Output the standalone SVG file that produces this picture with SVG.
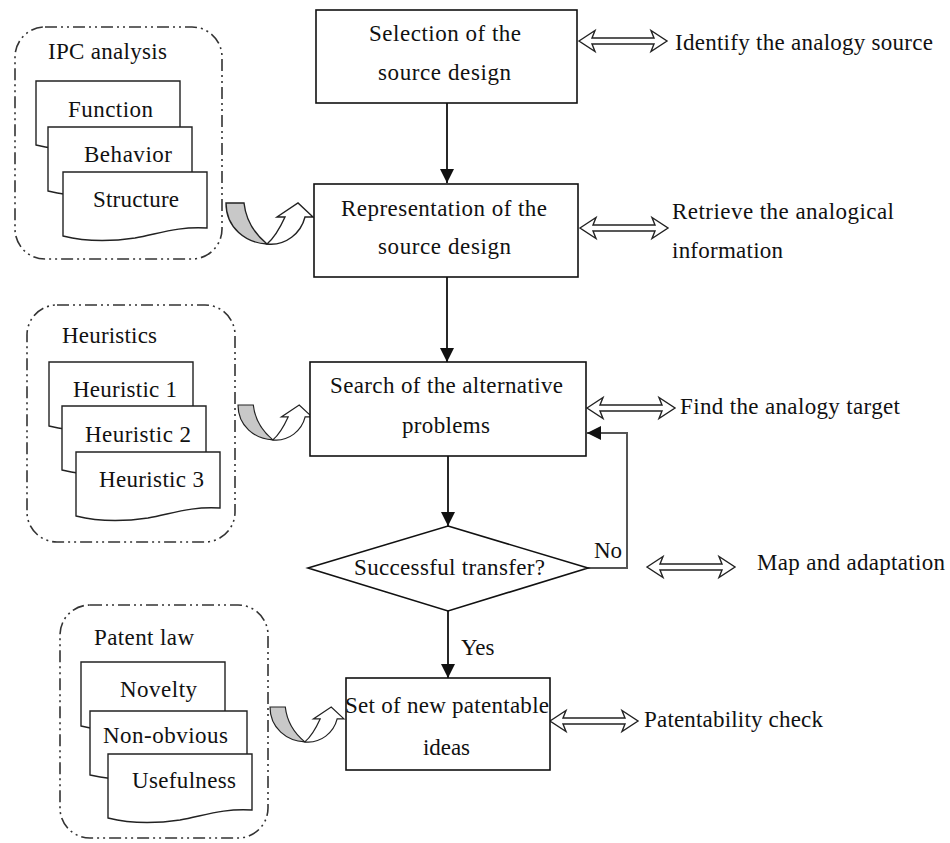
<svg xmlns="http://www.w3.org/2000/svg" width="950" height="843" viewBox="0 0 950 843">
<style>
text{font-family:"Liberation Serif","Times New Roman",serif;font-size:23px;fill:#111}
.box{fill:#fff;stroke:#111;stroke-width:1.6}
.grp{fill:none;stroke:#333;stroke-width:1.6;stroke-dasharray:12 4 2 4 2 4}
.doc{fill:#fff;stroke:#222;stroke-width:1.4}
.dbl{fill:#fff;stroke:#222;stroke-width:1.4;stroke-linejoin:miter}
.flow{fill:none;stroke:#111;stroke-width:1.8}
.loop{fill:none;stroke:#555;stroke-width:2}
</style>
<defs>
<marker id="ah" markerUnits="userSpaceOnUse" markerWidth="14" markerHeight="18" refX="14" refY="7" orient="auto">
<path d="M0,0 L14,7 L0,14 Z" fill="#111"/>
</marker>
<path id="doc" class="doc" d="M0,0 H144 V56 C115,54 95,62 72,66 C45,70 20,69 0,64 Z"/>
<polygon id="dbl" class="dbl" points="0,0 16,-10.5 13,-3 75,-3 72,-10.5 88,0 72,10.5 75,3 13,3 16,10.5"/>
<g id="curl">
<path d="M0,0 H18 C20,18 30,32 41,41 C20,40 0,25 0,0 Z" fill="#c8c8c8" stroke="#222" stroke-width="1.4"/>
<path d="M41,41 C48,35 54,25 59,14 H51 L72,0 L87,14 H79 C75,30 60,43 41,41 Z" fill="#fff" stroke="#222" stroke-width="1.4"/>
</g>
</defs>

<g id="connectors">
<line class="flow" x1="447" y1="103" x2="447" y2="183" marker-end="url(#ah)"/>
<line class="flow" x1="447" y1="277" x2="447" y2="362" marker-end="url(#ah)"/>
<line class="flow" x1="448" y1="456" x2="448" y2="526" marker-end="url(#ah)"/>
<line class="flow" x1="448" y1="611" x2="448" y2="678" marker-end="url(#ah)"/>
<polyline class="loop" points="588,568 627,568 627,433 587,433" marker-end="url(#ah)"/>
<use href="#dbl" x="579" y="41"/>
<use href="#dbl" x="580" y="228"/>
<use href="#dbl" x="587" y="408"/>
<use href="#dbl" x="647" y="567"/>
<use href="#dbl" x="550" y="721"/>
<use href="#curl" transform="translate(226,203)"/>
<use href="#curl" transform="translate(238,405) scale(0.85)"/>
<use href="#curl" transform="translate(270,707) scale(0.85)"/>
<text x="461" y="655">Yes</text>
<text x="594" y="558">No</text>
</g>

<g id="ipc">
<rect class="grp" x="15" y="27" width="207" height="232" rx="30"/>
<text x="48" y="59" textLength="119">IPC analysis</text>
<use href="#doc" x="36" y="81"/>
<text x="68" y="117" textLength="85">Function</text>
<use href="#doc" x="48" y="127"/>
<text x="84" y="162" textLength="88">Behavior</text>
<use href="#doc" x="63" y="172"/>
<text x="93" y="207" textLength="86">Structure</text>
</g>

<g id="heuristics">
<rect class="grp" x="27" y="305" width="208" height="237" rx="30"/>
<text x="62" y="343" textLength="95">Heuristics</text>
<use href="#doc" x="49" y="362"/>
<text x="73" y="397" textLength="104">Heuristic 1</text>
<use href="#doc" x="62" y="406"/>
<text x="85" y="442" textLength="106">Heuristic 2</text>
<use href="#doc" x="76" y="452"/>
<text x="99" y="487" textLength="105">Heuristic 3</text>
</g>

<g id="patentlaw">
<rect class="grp" x="60" y="605" width="208" height="233" rx="30"/>
<text x="94" y="645" textLength="100">Patent law</text>
<use href="#doc" x="81" y="662"/>
<text x="120" y="697" textLength="77">Novelty</text>
<path class="doc" transform="translate(90,711)" d="M0,0 H157 V56 C125,54 104,62 79,66 C49,70 22,69 0,64 Z"/>
<text x="103" y="743" textLength="125">Non-obvious</text>
<use href="#doc" x="108" y="754"/>
<text x="132" y="788" textLength="104">Usefulness</text>
</g>

<g id="selection">
<rect class="box" x="316" y="10" width="261" height="93"/>
<text x="369" y="41" textLength="152">Selection of the</text>
<text x="378" y="80" textLength="133">source design</text>
</g>

<g id="representation">
<rect class="box" x="314" y="184" width="264" height="93"/>
<text x="341" y="216" textLength="206">Representation of the</text>
<text x="378" y="254" textLength="133">source design</text>
</g>

<g id="search">
<rect class="box" x="310" y="362" width="276" height="94"/>
<text x="330" y="393" textLength="233">Search of the alternative</text>
<text x="402" y="433" textLength="88">problems</text>
</g>

<g id="decision">
<polygon class="box" points="448,526 588,568 448,611 308,568"/>
<text x="354" y="575" textLength="191">Successful transfer?</text>
</g>

<g id="ideas">
<rect class="box" x="346" y="678" width="204" height="92"/>
<text x="345" y="713" textLength="204">Set of new patentable</text>
<text x="423" y="755" textLength="47">ideas</text>
</g>

<g id="labels">
<text x="675" y="50" textLength="258">Identify the analogy source</text>
<text x="672" y="219" textLength="222">Retrieve the analogical</text>
<text x="672" y="258" textLength="111">information</text>
<text x="680" y="414" textLength="220">Find the analogy target</text>
<text x="757" y="570" textLength="188">Map and adaptation</text>
<text x="644" y="727" textLength="179">Patentability check</text>
</g>
</svg>
